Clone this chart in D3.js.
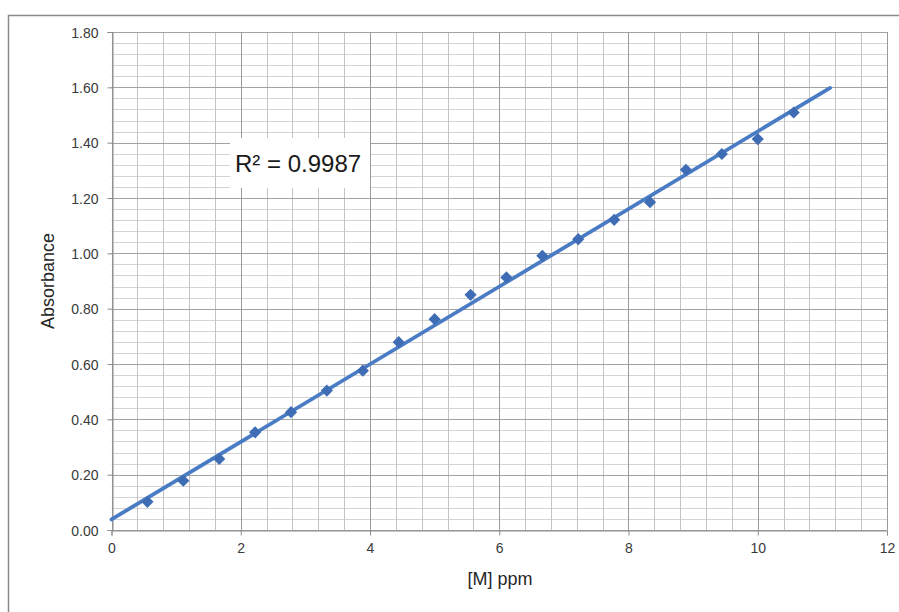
<!DOCTYPE html>
<html>
<head>
<meta charset="utf-8">
<script src="https://cdn.jsdelivr.net/npm/d3@7"></script>
<style>
  body { margin: 0; background: #fff; }
  svg { display: block; font-family: "Liberation Sans", Arial, sans-serif; }
</style>
</head>
<body>
<svg id="chart" width="899" height="612"></svg>
<script>
// concentration [M] ppm and measured absorbance
var conc = [0.556, 1.111, 1.667, 2.222, 2.778, 3.333, 3.889, 4.444, 5.0, 5.556,
            6.111, 6.667, 7.222, 7.778, 8.333, 8.889, 9.444, 10.0, 10.556]
var absorb = [0.102, 0.178, 0.257, 0.353, 0.426, 0.504, 0.576, 0.679, 0.762, 0.850,
              0.913, 0.991, 1.051, 1.121, 1.185, 1.302, 1.359, 1.413, 1.509]
var xTicks = [0, 2, 4, 6, 8, 10, 12]
var yTicks = [0, 0.2, 0.4, 0.6, 0.8, 1.0, 1.2, 1.4, 1.6, 1.8]
var trendRange = [0, 11.12]
var r2Label = 'R² = 0.9987'

var svg = d3.select('#chart')
var pLeft = 111.5, pRight = 887, pTop = 32, pBottom = 530

var x = d3.scaleLinear().domain([0, 12]).range([pLeft, pRight])
var y = d3.scaleLinear().domain([0, 1.8]).range([pBottom, pTop])

// outer chart border
svg.append('rect')
  .attr('x', 8.5).attr('y', 15.5)
  .attr('width', 1000).attr('height', 1000)
  .attr('fill', 'none').attr('stroke', '#8a8a8a').attr('stroke-width', 1.5)

var grid = svg.append('g')

// minor horizontal lines every 0.04
grid.selectAll('.hmin')
  .data(d3.range(0, 46).map(function (i) { return i * 0.04 }))
  .enter().append('line')
  .attr('x1', pLeft).attr('x2', pRight)
  .attr('y1', function (d) { return Math.round(y(d)) + 0.5 })
  .attr('y2', function (d) { return Math.round(y(d)) + 0.5 })
  .attr('stroke', '#d4d4d4')

// minor vertical lines every 0.4
grid.selectAll('.vmin')
  .data(d3.range(0, 31).map(function (i) { return i * 0.4 }))
  .enter().append('line')
  .attr('y1', pTop).attr('y2', pBottom)
  .attr('x1', function (d) { return Math.round(x(d)) + 0.5 })
  .attr('x2', function (d) { return Math.round(x(d)) + 0.5 })
  .attr('stroke', '#c4c4c4')

// major lines
grid.selectAll('.hmaj')
  .data(yTicks)
  .enter().append('line')
  .attr('x1', pLeft).attr('x2', pRight)
  .attr('y1', function (d) { return Math.round(y(d)) + 0.5 })
  .attr('y2', function (d) { return Math.round(y(d)) + 0.5 })
  .attr('stroke', '#a3a3a3')

grid.selectAll('.vmaj')
  .data(xTicks)
  .enter().append('line')
  .attr('y1', pTop).attr('y2', pBottom)
  .attr('x1', function (d) { return Math.round(x(d)) + 0.5 })
  .attr('x2', function (d) { return Math.round(x(d)) + 0.5 })
  .attr('stroke', '#9a9a9a')

// axes
var xAxis = svg.append('g')
  .attr('transform', 'translate(0,' + (Math.round(pBottom) + 0.5) + ')')
  .call(d3.axisBottom(x).tickValues(xTicks).tickSize(5).tickPadding(8)
    .tickFormat(d3.format('d')))
var yAxis = svg.append('g')
  .attr('transform', 'translate(' + (Math.round(pLeft) + 0.5) + ',0)')
  .call(d3.axisLeft(y).tickValues(yTicks).tickSize(5).tickPadding(9)
    .tickFormat(d3.format('.2f')))

svg.selectAll('.domain').attr('stroke', '#8c8c8c')
svg.selectAll('.tick line').attr('stroke', '#8c8c8c')
svg.selectAll('.tick text')
  .attr('font-family', '"Liberation Sans", Arial, sans-serif')
  .attr('font-size', 14).attr('fill', '#3a3a3a')
yAxis.selectAll('.tick text').attr('dy', '0.36em')

// linear trendline from least squares
var n = conc.length
var mx = d3.mean(conc), my = d3.mean(absorb)
var sxy = 0, sxx = 0
for (var i = 0; i < n; i++) {
  sxy += (conc[i] - mx) * (absorb[i] - my)
  sxx += (conc[i] - mx) * (conc[i] - mx)
}
var slope = sxy / sxx, icpt = my - slope * mx

svg.append('line')
  .attr('x1', x(trendRange[0])).attr('y1', y(icpt + slope * trendRange[0]))
  .attr('x2', x(trendRange[1])).attr('y2', y(icpt + slope * trendRange[1]))
  .attr('stroke', '#4a7cc3').attr('stroke-width', 3.8)
  .attr('stroke-linecap', 'round')

// data markers (diamonds)
var pts = conc.map(function (c, i) { return { x: c, y: absorb[i] } })
svg.selectAll('.pt')
  .data(pts)
  .enter().append('path')
  .attr('d', d3.symbol().type(d3.symbolDiamond2).size(95))
  .attr('transform', function (d) { return 'translate(' + x(d.x) + ',' + y(d.y) + ')' })
  .attr('fill', '#3f6db5')

// R² label
svg.append('rect')
  .attr('x', 230).attr('y', 138).attr('width', 140).attr('height', 50)
  .attr('fill', '#fff')
svg.append('text')
  .attr('x', 235).attr('y', 172)
  .attr('font-size', 24).attr('fill', '#1a1a1a')
  .text(r2Label)

// axis titles
svg.append('text')
  .attr('transform', 'translate(54,281) rotate(-90)')
  .attr('text-anchor', 'middle')
  .attr('font-size', 18).attr('fill', '#262626')
  .text('Absorbance')
svg.append('text')
  .attr('x', 500).attr('y', 585)
  .attr('text-anchor', 'middle')
  .attr('font-size', 18).attr('fill', '#262626')
  .text('[M] ppm')
</script>
</body>
</html>
